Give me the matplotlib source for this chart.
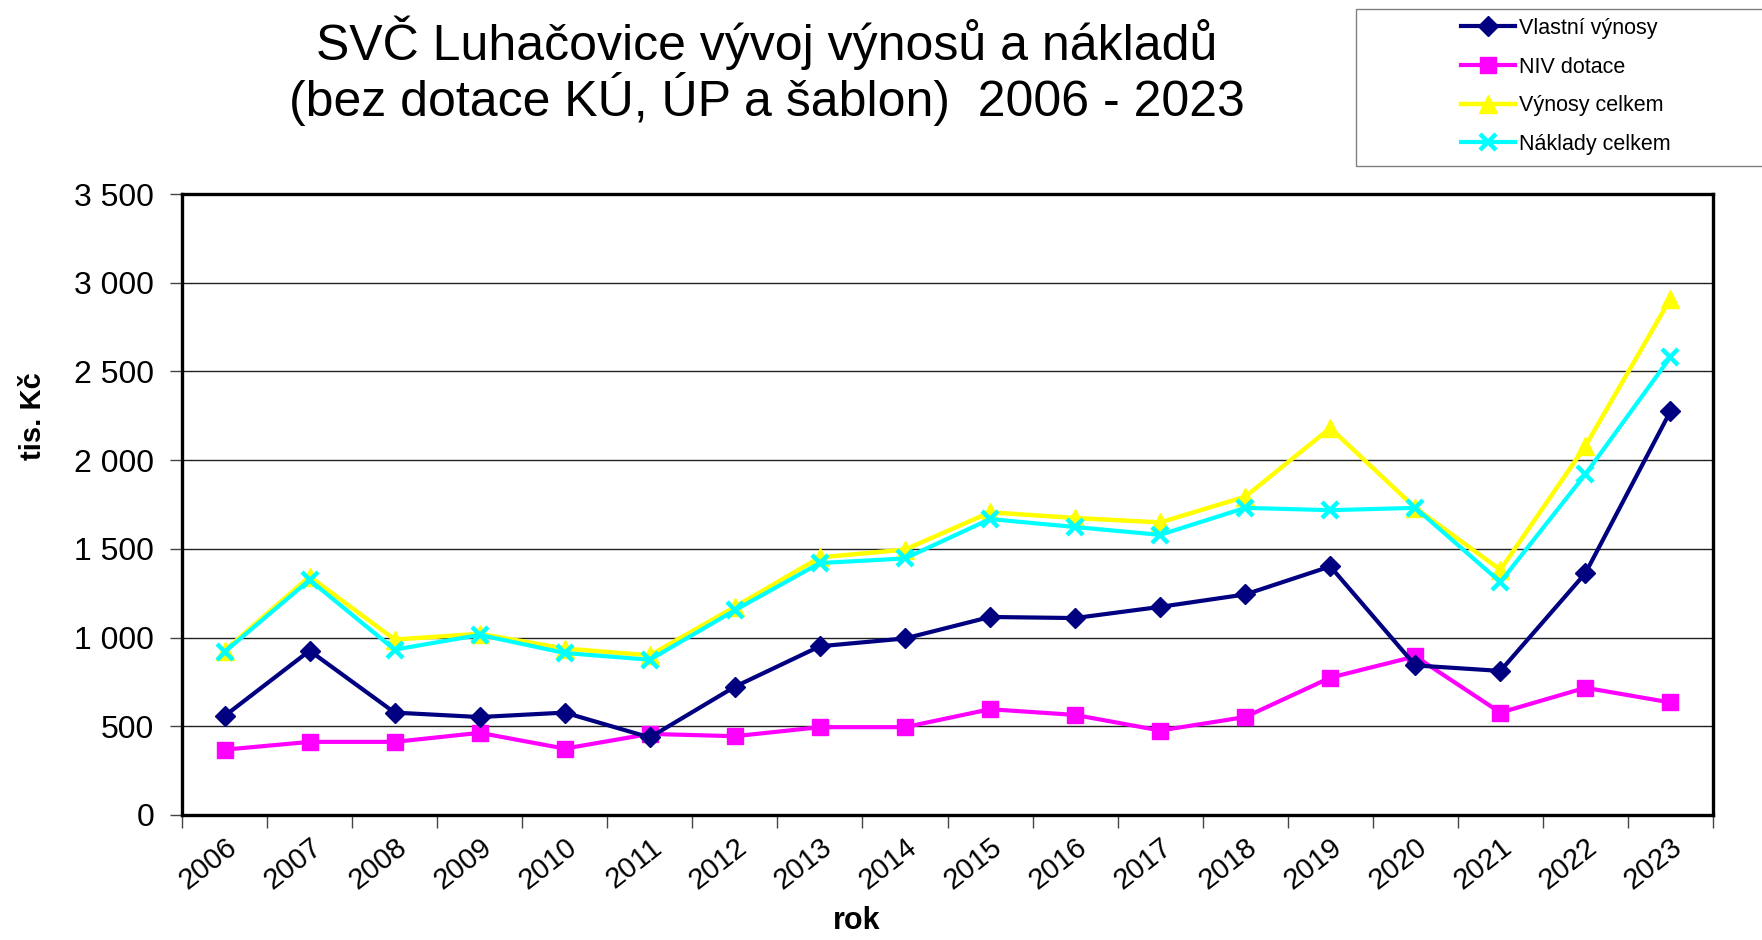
import matplotlib.pyplot as plt
from matplotlib.patches import Rectangle
from matplotlib.ticker import FixedLocator, FuncFormatter

plt.rcParams['font.family'] = ['Liberation Sans', 'DejaVu Sans']

# data (tis. Kč)
years = [str(y) for y in range(2006, 2024)]
vlastni_vynosy = [558, 926, 577, 552, 577, 437, 723, 951, 995, 1116, 1110, 1173, 1243, 1401, 843, 812, 1363, 2276]
niv_dotace = [368, 412, 412, 463, 374, 457, 444, 495, 495, 596, 564, 476, 552, 774, 894, 577, 717, 634]
vynosy_celkem = [926, 1344, 989, 1021, 938, 900, 1173, 1452, 1496, 1706, 1674, 1649, 1794, 2181, 1731, 1382, 2080, 2910]
naklady_celkem = [919, 1325, 932, 1015, 913, 875, 1154, 1420, 1446, 1668, 1623, 1579, 1731, 1718, 1731, 1313, 1921, 2581]
y_ticks = [0, 500, 1000, 1500, 2000, 2500, 3000, 3500]

fig = plt.figure(figsize=(17.62, 9.40), dpi=100)
ax = fig.add_axes([0.1033, 0.133, 0.9722 - 0.1033, 0.7936 - 0.133])

x = list(range(len(years)))
ax.plot(x, vlastni_vynosy, color='#000080', lw=3, marker='D', ms=10, label='Vlastní výnosy', zorder=4)
ax.plot(x, niv_dotace, color='#FF00FF', lw=3, marker='s', ms=12, label='NIV dotace', zorder=3)
ax.plot(x, vynosy_celkem, color='#FFFF00', lw=3.2, marker='^', ms=13, label='Výnosy celkem', zorder=3)
ax.plot(x, naklady_celkem, color='#00FFFF', lw=3, marker='x', ms=12, mew=3.2, label='Náklady celkem', zorder=4)

ax.set_xlim(-0.5, len(years) - 0.5)
ax.set_ylim(0, 3500)
ax.yaxis.set_major_locator(FixedLocator(y_ticks))
ax.yaxis.set_major_formatter(FuncFormatter(lambda v, p: f"{int(v):,}".replace(',', ' ')))
ax.grid(axis='y', color='#222222', lw=1)
ax.set_axisbelow(True)

# tick marks between categories, labels at category centres
ax.xaxis.set_major_locator(FixedLocator([i - 0.5 for i in range(len(years) + 1)]))
ax.xaxis.set_major_formatter(FuncFormatter(lambda v, p: ''))
ax.set_xticks(x, years, minor=True)
ax.tick_params(axis='x', which='major', length=9, width=1, direction='out', color='#444444')
ax.tick_params(axis='x', which='minor', length=0, pad=13, labelsize=21)
for lbl in ax.get_xticklabels(minor=True):
    lbl.set_rotation(38)
    lbl.set_rotation_mode('anchor')
    lbl.set_ha('right')
    lbl.set_va('top')
ax.tick_params(axis='y', length=9, width=1, direction='out', pad=11, labelsize=23, color='#444444')

for s in ax.spines.values():
    s.set_linewidth(2.4)
    s.set_color('black')

fig.text(0.435, 0.984, 'SVČ Luhačovice vývoj výnosů a nákladů\n(bez dotace KÚ, ÚP a šablon)  2006 - 2023',
         ha='center', va='top', fontsize=36, linespacing=1.05)
fig.text(0.019, 0.557, 'tis. Kč', rotation=90, ha='center', va='center', fontsize=21, fontweight='bold')
fig.text(0.486, 0.004, 'rok', ha='center', va='bottom', fontsize=22, fontweight='bold')

# legend box
fig.patches.append(Rectangle((1356 / 1762, 1 - 166 / 940), 0.3, 157 / 940, transform=fig.transFigure,
                             facecolor='white', edgecolor='#808080', lw=1, zorder=0))
fig.legend(loc='upper left', bbox_to_anchor=(1461 / 1762, 1 - 18 / 940), frameon=False, fontsize=15.5,
           handlelength=2.5, handletextpad=0.2, labelspacing=0.82, borderpad=0, borderaxespad=0)

plt.savefig('out.png', dpi=100)
